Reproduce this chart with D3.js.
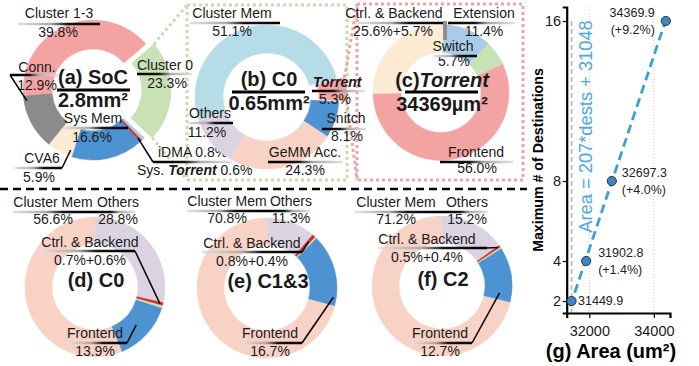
<!DOCTYPE html>
<html><head><meta charset="utf-8">
<script src="https://cdn.jsdelivr.net/npm/d3@7"></script>
<style>
body{margin:0;background:#fff;}
svg{font-family:"Liberation Sans",Arial,Helvetica,sans-serif;}
</style></head><body>
<svg id="fig" width="699" height="366"></svg>
<script>
// ---- area breakdowns (percent) ----
const socParts   = ["Cluster 0","iDMA","Sys. Torrent","Sys Mem","CVA6","Conn.","Cluster 1-3"];
const socShares  = [23.3, 0.8, 0.6, 16.6, 5.9, 12.9, 39.8];
const c0Parts    = ["Cluster Mem","Torrent","Snitch","GeMM Acc.","Others"];
const c0Shares   = [51.1, 5.3, 8.1, 24.3, 11.2];
const torParts   = ["Frontend","Ctrl. & Backend","Extension","Switch"];
const torShares  = [56.0, 25.6, 11.4, 5.7];
const torBackendLabel = 5.7;
const clParts    = ["Others","Ctrl.","Backend","Frontend","Cluster Mem"];
const c0Detail   = [28.8, 0.7, 0.6, 13.9, 56.6];
const c13Detail  = [11.3, 0.8, 0.4, 16.7, 70.8];
const c2Detail   = [15.2, 0.5, 0.4, 12.7, 71.2];

// ---- scaling of Torrent area with destinations ----
const dests    = [2, 4, 8, 16];
const areas    = [31449.9, 31902.8, 32697.3, 34369.9];
const overhead = [null, 1.4, 4.0, 9.2];
const yTicks   = [2, 4, 8, 16];
const xTicks   = [32000, 34000];
const fitSlope = 207, fitIntercept = 31048;

const col = {
  pink:"#f4a3a3", green:"#c8e1b5", blue:"#4d93d1", beige:"#fdebd3", gray:"#8b8b8b",
  ltblue:"#a8cbe7", red:"#d42b2b", mem:"#b6dce8", peach:"#f8d2c4", lav:"#dbd3e2"
};

const svg = d3.select("#fig");
const defs = svg.append("defs");
const rad = d => d * Math.PI / 180;
const ink = "#1a1a1a";

// ---- helpers ----
function donut(cx, cy, ro, ri, startDeg, shares, colors, explode) {
  const pie = d3.pie().sort(null).value(d => d)
    .startAngle(rad(startDeg)).endAngle(rad(startDeg) + 2 * Math.PI);
  const arcs = pie(shares);
  const arc = d3.arc().innerRadius(ri).outerRadius(ro);
  const g = svg.append("g").attr("transform", `translate(${cx},${cy})`);
  arcs.forEach((a, i) => {
    const off = (explode && explode[i]) || 0;
    const mid = (a.startAngle + a.endAngle) / 2;
    a.dx = off * Math.sin(mid); a.dy = -off * Math.cos(mid);
    g.append("path").attr("d", arc(a)).attr("fill", colors[i])
      .attr("stroke", colors[i]).attr("stroke-width", 0.5)
      .attr("transform", `translate(${a.dx},${a.dy})`);
  });
  const at = (i, frac, r) => {
    const a = arcs[i], ang = a.startAngle + frac * (a.endAngle - a.startAngle);
    return [cx + a.dx + r * Math.sin(ang), cy + a.dy - r * Math.cos(ang)];
  };
  return { cx, cy, ro, ri, arcs, at };
}

let gid = 0;
function uline(x1, x2, y, darkSide) {
  const id = "ul" + (gid++);
  const gr = defs.append("linearGradient").attr("id", id)
    .attr("gradientUnits", "userSpaceOnUse")
    .attr("x1", x1).attr("x2", x2).attr("y1", y).attr("y2", y);
  const stops = [[0, "#e2e2e2"], [0.4, "#a9a9a9"], [0.6, "#151515"], [1, "#000"]];
  (darkSide === "r" ? stops : stops.map(([o, c]) => [1 - o, c]).reverse())
    .forEach(([o, c]) => gr.append("stop").attr("offset", o).attr("stop-color", c));
  svg.append("line").attr("x1", x1).attr("x2", x2).attr("y1", y).attr("y2", y)
    .attr("stroke", `url(#${id})`).attr("stroke-width", 2.4);
}
function leader(pts, w = 1.5, c = "#000") {
  svg.append("path").attr("d", d3.line()(pts)).attr("fill", "none")
    .attr("stroke", c).attr("stroke-width", w);
}
function txt(x, y, s, o = {}) {
  return svg.append("text").attr("x", x).attr("y", y)
    .attr("text-anchor", o.anchor || "middle")
    .attr("font-size", o.size || 14).attr("font-weight", o.weight || "normal")
    .attr("font-style", o.italic ? "italic" : "normal")
    .attr("fill", o.fill || ink).text(s);
}
const pct = v => v.toFixed(1) + "%";

// ---- frames linking the zoomed-in breakdowns ----
function dotted(pts, c) {
  svg.append("path").attr("d", d3.line()(pts)).attr("fill", "none")
    .attr("stroke", c).attr("stroke-width", 3).attr("stroke-dasharray", "3,3");
}

// ---- (a) SoC ----
const socColors = [col.green, col.ltblue, col.red, col.blue, col.beige, col.gray, col.pink];
const boxB = [187, 5, 347, 180], boxC = [357, 4, 523, 180];

dotted([[boxB[0], boxB[1]], [boxB[2], boxB[1]], [boxB[2], boxB[3]], [boxB[0], boxB[3]], [boxB[0], boxB[1]]], "#c3dfae");
dotted([[boxC[0], boxC[1]], [boxC[2], boxC[1]], [boxC[2], boxC[3]], [boxC[0], boxC[3]], [boxC[0], boxC[1]]], "#f4a3a3");

const A = donut(93, 90, 70, 41, 49, socShares, socColors, [8, 0, 0, 0, 0, 0, 0]);
dotted([A.at(0, 0, 70), [boxB[0], boxB[1]]], "#c3dfae");
dotted([A.at(0, 1, 70), [boxB[0], boxB[3]]], "#c3dfae");
// redraw Cluster 0 on top of its linking lines
A.arcs.forEach((a, i) => { if (i === 0) {
  svg.append("path").attr("d", d3.arc().innerRadius(41).outerRadius(70)(a))
    .attr("fill", socColors[0]).attr("transform", `translate(${93 + a.dx},${90 + a.dy})`);
}});

txt(59, 18, socParts[6]); txt(58, 37, pct(socShares[6])); uline(18, 100, 24, "r");
txt(165, 70, socParts[0]); txt(167, 88, pct(socShares[0])); uline(137, 192, 74, "l");
txt(37, 72, socParts[5]); txt(37, 90, pct(socShares[5])); uline(10, 58, 75, "l");
leader([[10, 75], A.at(5, 0.9, 67)]);
txt(93, 123, socParts[3]); txt(92, 142, pct(socShares[3])); uline(63, 128, 128, "r");
txt(42, 163, socParts[4]); txt(39, 182, pct(socShares[4])); uline(15, 62, 168, "r");
leader([[62, 168], A.at(4, 0.12, 64)]);
txt(158, 157, `${socParts[1]} ${pct(socShares[1])}`, { anchor: "start" });
{
  const t = txt(137, 175, "", { anchor: "start" });
  t.append("tspan").text("Sys. ");
  t.append("tspan").attr("font-weight", "bold").attr("font-style", "italic").text("Torrent");
  t.append("tspan").text(" " + pct(socShares[2]));
}
uline(153, 232, 162, "l");
leader([[153, 162], A.at(2, 0.5, 66)]);
txt(93, 84, "(a) SoC", { size: 20, weight: "bold" });
svg.append("line").attr("x1", 57).attr("x2", 130).attr("y1", 90).attr("y2", 90).attr("stroke", "#000").attr("stroke-width", 3);
txt(93, 107, "2.8mm²", { size: 20, weight: "bold" });

// ---- (b) C0 ----
const c0Colors = [col.mem, col.pink, col.blue, col.peach, col.lav];
const B = donut(267, 97, 72, 44, -109, c0Shares, c0Colors, [0, 8, 0, 0, 0]);
dotted([B.at(1, 0, 72), [boxC[0], boxC[1]]], "#f4a3a3");
dotted([B.at(1, 1, 72), [boxC[0], boxC[3]]], "#f4a3a3");

txt(232, 18, c0Parts[0]); txt(232, 36, pct(c0Shares[0])); uline(190, 280, 23, "r");
txt(313, 87, c0Parts[1], { anchor: "start", weight: "bold", italic: true });
txt(335, 104, pct(c0Shares[1])); uline(312, 365, 91, "l");
txt(346, 123, c0Parts[2]); txt(347, 141, pct(c0Shares[2])); uline(322, 366, 129, "l");
txt(305, 157, c0Parts[3]); txt(305, 175, pct(c0Shares[3])); uline(268, 343, 162, "l");
txt(210, 118, c0Parts[4]); txt(207, 137, pct(c0Shares[4])); uline(188, 233, 123, "r");
txt(269, 86, "(b) C0", { size: 20, weight: "bold" });
svg.append("line").attr("x1", 232).attr("x2", 305).attr("y1", 92).attr("y2", 92).attr("stroke", "#000").attr("stroke-width", 3);
txt(269, 110, "0.65mm²", { size: 20, weight: "bold" });

// ---- (c) Torrent ----
const torColors = [col.pink, col.beige, col.ltblue, col.green];
const Cc = donut(441, 92.5, 68, 40, 65, torShares, torColors);

txt(394, 18, torParts[1]); txt(393, 36, `${pct(torShares[1])}+${pct(torBackendLabel)}`);
uline(357, 443, 23, "r");
{ const p = Cc.at(1, 1, 54); leader([[p[0] + 1.5, 21], [p[0] + 1.5, 40]], 4, "#8f8f8f"); }
txt(484, 18, torParts[2]); txt(484, 36, pct(torShares[2])); uline(448, 515, 23, "l");
txt(453, 51, torParts[3]); txt(454, 66, pct(torShares[3])); uline(433, 477, 56, "r");
txt(476, 157, torParts[0]); txt(477, 173, pct(torShares[0])); uline(440, 513, 162, "l");
{
  const t = txt(442, 87, "", { size: 20, weight: "bold" });
  t.append("tspan").text("(c)");
  t.append("tspan").attr("font-style", "italic").text("Torrent");
}
svg.append("line").attr("x1", 405).attr("x2", 478).attr("y1", 92).attr("y2", 92).attr("stroke", "#000").attr("stroke-width", 3);
txt(442, 111, "34369µm²", { size: 20, weight: "bold" });

// ---- separator ----
svg.append("line").attr("x1", 0).attr("x2", 527).attr("y1", 189).attr("y2", 189)
  .attr("stroke", "#000").attr("stroke-width", 2.5).attr("stroke-dasharray", "8,5");

// ---- (d)-(f) cluster breakdowns ----
const clColors = [col.lav, col.red, col.green, col.blue, col.peach];
function clusterPanel(cx, cy, vals, title, L) {
  const D = donut(cx, cy, 70, 43, 0, vals, clColors);
  txt(L.memX, L.topY, clParts[4]); txt(L.memX, L.topY + 17, pct(vals[4]));
  uline(L.memL, cx, L.topY + 5, "r");
  txt(L.othX, L.topY, clParts[0]); txt(L.othX, L.topY + 17, pct(vals[0]));
  uline(cx, L.othR, L.topY + 5, "l");
  txt(L.ctrlX, L.ctrlY, "Ctrl. & Backend");
  txt(L.ctrlX, L.ctrlY + 18, `${pct(vals[1])}+${pct(vals[2])}`);
  uline(L.ctrlL, L.ctrlR, L.ctrlY + 4, "r");
  leader([[L.ctrlR, L.ctrlY + 4], D.at(1, 0.5, L.ctrlRad)]);
  txt(cx + L.feDX, 338, clParts[3]); txt(cx + L.feDX, 356, pct(vals[3]));
  uline(L.feL, L.feR, 343, "r");
  leader([[L.feR, 343], D.at(3, L.feFrac, L.feRad)]);
  txt(cx + 1, cy, title, { size: 20, weight: "bold" });
}
clusterPanel(95, 287, c0Detail, "(d) C0",
  { memX: 53, othX: 118, topY: 207, memL: 13, othR: 135,
    ctrlX: 90, ctrlY: 247, ctrlL: 40, ctrlR: 135, ctrlRad: 67,
    feDX: 0, feL: 67, feR: 127, feFrac: 0.5, feRad: 56 });
clusterPanel(267, 288, c13Detail, "(e) C1&3",
  { memX: 227, othX: 291, topY: 206, memL: 187, othR: 310,
    ctrlX: 252, ctrlY: 248, ctrlL: 202, ctrlR: 302, ctrlRad: 62,
    feDX: 3, feL: 242, feR: 302, feFrac: 0.88, feRad: 67 });
clusterPanel(442, 286, c2Detail, "(f) C2",
  { memX: 396, othX: 467, topY: 207, memL: 355, othR: 488,
    ctrlX: 427, ctrlY: 244, ctrlL: 378, ctrlR: 487, ctrlRad: 68,
    feDX: -2, feL: 412, feR: 472, feFrac: 0.85, feRad: 58 });

// ---- (g) area vs. destinations ----
const x = d3.scaleLinear().domain([31300, 34500]).range([566.7, 670]);
const y = d3.scaleLinear().domain([1.4, 16.7]).range([313, 7]);
const gg = svg.append("g");
xTicks.forEach(t => gg.append("line").attr("x1", x(t)).attr("x2", x(t)).attr("y1", 7).attr("y2", 313)
  .attr("stroke", "#cfcfcf").attr("stroke-width", 1).attr("stroke-dasharray", "1,2"));
gg.append("line").attr("x1", x(areas[0])).attr("x2", x(areas[0]))
  .attr("y1", y(dests[3])).attr("y2", 313)
  .attr("stroke", "#b5b5b5").attr("stroke-width", 1.6).attr("stroke-dasharray", "5,3");

const ax = gg.append("g").attr("transform", "translate(0,313)")
  .call(d3.axisBottom(x).tickValues(xTicks).tickSizeOuter(0).tickSize(5).tickPadding(8).tickFormat(d3.format("d")));
const ay = gg.append("g").attr("transform", "translate(566.7,0)")
  .call(d3.axisLeft(y).tickValues(yTicks).tickSizeOuter(0).tickSize(4).tickPadding(1.5));
[ax, ay].forEach(a => {
  a.select(".domain").attr("stroke", "#000").attr("stroke-width", 2.2);
  a.selectAll(".tick line").attr("stroke", "#000").attr("stroke-width", 1.2);
  a.selectAll(".tick text").attr("font-size", 14.5).attr("fill", ink)
    .attr("font-family", "Liberation Sans, Arial, sans-serif");
});

const fitD = [1.75, 16.15];
gg.append("path").attr("d", d3.line()(fitD.map(d => [x(fitSlope * d + fitIntercept), y(d)])))
  .attr("stroke", "#3d9fd8").attr("stroke-width", 2.8).attr("stroke-dasharray", "9,5").attr("fill", "none");

gg.append("text").attr("transform", "translate(592,126.5) rotate(-90)")
  .attr("text-anchor", "middle").attr("font-size", 18.3).attr("fill", "#4aa9de")
  .text(`Area = ${fitSlope}*dests + ${fitIntercept}`);

gg.selectAll("circle").data(dests).join("circle")
  .attr("cx", (d, i) => x(areas[i])).attr("cy", d => y(d)).attr("r", 4.6)
  .attr("fill", "#3a86c6").attr("stroke", "#333").attr("stroke-width", 1);

const ptLab = [
  { dx: 6.5, dy: 4, anchor: "start" },
  { dx: 12, dy: -4, anchor: "start" },
  { dx: 10, dy: -4, anchor: "start" },
  { dx: -11, dy: -4, anchor: "end" }
];
dests.forEach((d, i) => {
  const px = x(areas[i]) + ptLab[i].dx, py = y(d) + ptLab[i].dy;
  txt(px, py, areas[i].toFixed(1), { anchor: ptLab[i].anchor, size: 12.5, fill: "#222" });
  if (overhead[i] !== null)
    txt(px, py + 17, `(+${overhead[i].toFixed(1)}%)`, { anchor: ptLab[i].anchor, size: 12.5, fill: "#222" });
});

gg.append("text").attr("transform", "translate(543,160) rotate(-90)")
  .attr("text-anchor", "middle").attr("font-size", 14.2).attr("font-weight", "bold").attr("fill", "#000")
  .text("Maximum # of Destinations");
gg.append("text").attr("x", 611).attr("y", 358).attr("text-anchor", "middle")
  .attr("font-size", 20).attr("font-weight", "bold").attr("fill", "#000")
  .text("(g) Area (um²)");
</script>
</body></html>
